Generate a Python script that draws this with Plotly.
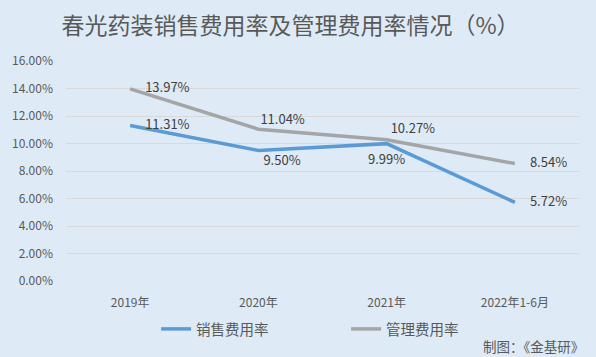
import plotly.graph_objects as go

categories = ["2019年", "2020年", "2021年", "2022年1-6月"]
sales_rate = [11.31, 9.50, 9.99, 5.72]
admin_rate = [13.97, 11.04, 10.27, 8.54]
y_ticks = [0, 2, 4, 6, 8, 10, 12, 14, 16]

# label placement (style)
sales_pos = ["middle right", "bottom right", "bottom center", "middle right"]
admin_pos = ["middle right", "top right", "top right", "middle right"]
sales_gap = [22.4, 6.4, 16, 22.4]
admin_gap = [22.4, 1.6, 4.8, 22.4]

FONT = "Noto Sans CJK SC"
BG = "#DEEBF7"
xs = list(range(len(categories)))

fig = go.Figure()
series = [
    ("销售费用率", sales_rate, "#5B9BD5", sales_pos, sales_gap),
    ("管理费用率", admin_rate, "#A5A5A5", admin_pos, admin_gap),
]
for name, vals, color, pos, gap in series:
    fig.add_trace(go.Scatter(
        x=xs, y=[v / 100 for v in vals], mode="lines", name=name,
        line=dict(color=color, width=3.5),
    ))
for name, vals, color, pos, gap in series:
    fig.add_trace(go.Scatter(
        x=xs, y=[v / 100 for v in vals], mode="markers+text", showlegend=False,
        marker=dict(size=gap, opacity=0, color=color),
        text=[f"{v:.2f}%" for v in vals], textposition=pos,
        textfont=dict(family=FONT, size=13, color="#404040"),
    ))

fig.update_layout(
    width=596, height=357,
    margin=dict(l=66, r=17, t=61, b=76),
    paper_bgcolor=BG, plot_bgcolor=BG,
    font=dict(family=FONT, color="#595959", size=12),
    title=dict(text="春光药装销售费用率及管理费用率情况（%）", x=0.4874, xanchor="center",
               xref="container", y=1 - 26 / 357, yanchor="middle", yref="container",
               font=dict(family=FONT, size=23, color="#595959")),
    showlegend=True,
    legend=dict(orientation="h", x=0.546, xanchor="center", y=-0.218, yanchor="middle",
                font=dict(family=FONT, size=14.5, color="#595959"),
                bgcolor="rgba(0,0,0,0)", entrywidth=145, entrywidthmode="pixels",
                traceorder="normal"),
    xaxis=dict(range=[-0.5, 3.5], tickvals=xs, ticktext=categories, showgrid=False,
               zeroline=False, showline=False, ticks="", ticklabelstandoff=13,
               tickfont=dict(family=FONT, size=12, color="#595959"), fixedrange=True),
    yaxis=dict(range=[0, 0.16], tickvals=[t / 100 for t in y_ticks], tickformat=".2%",
               showgrid=True, gridcolor="#D9D9D9", gridwidth=1, zeroline=False,
               showline=False, ticks="", ticklabelstandoff=12,
               tickfont=dict(family=FONT, size=12, color="#595959"), fixedrange=True),
    annotations=[dict(text="制图：《金基研》", xref="paper", yref="paper",
                      x=(586 - 66) / 513, xanchor="right", y=(281 - 345.5) / 220,
                      yanchor="middle", showarrow=False,
                      font=dict(family=FONT, size=13.5, color="#595959"))],
)

fig.write_html("out.html", config={"displayModeBar": False, "staticPlot": True},
               post_script="document.body.style.margin='0';document.body.style.padding='0';")
